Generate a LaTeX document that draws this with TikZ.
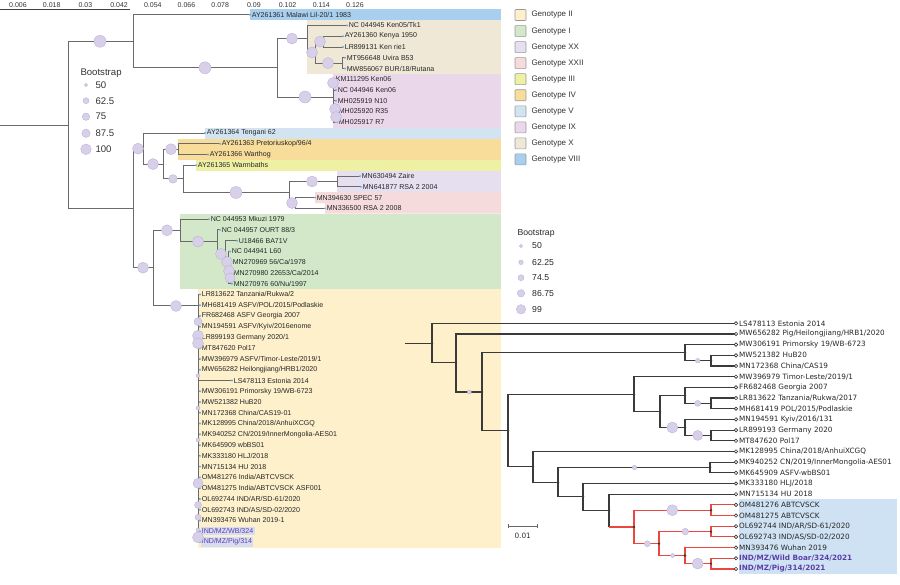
\documentclass[tikz,border=0pt]{standalone}
\usepackage{fontspec}
\usetikzlibrary{calc}
\setmainfont{Liberation Sans}
\newfontfamily\djv{DejaVu Sans}
\definecolor{gII}{HTML}{FDF0CB}
\definecolor{gI}{HTML}{D3E8C8}
\definecolor{gXX}{HTML}{E5DFF0}
\definecolor{gXXII}{HTML}{F5DBDB}
\definecolor{gIII}{HTML}{EEF0A4}
\definecolor{gIV}{HTML}{F8DC9A}
\definecolor{gV}{HTML}{D2E4F2}
\definecolor{gIX}{HTML}{EBD7EA}
\definecolor{gX}{HTML}{EFE8D6}
\definecolor{gVIII}{HTML}{A9CFEF}
\definecolor{brgray}{HTML}{6A6A6A}
\definecolor{brdark}{HTML}{3A3A3A}
\definecolor{brred}{HTML}{E9473F}
\definecolor{bootfill}{HTML}{D7D0E8}
\definecolor{bootline}{HTML}{B8AED6}
\definecolor{tipblue}{HTML}{6FA8DC}
\definecolor{indpurple}{HTML}{5B3FA8}
\definecolor{indhl}{HTML}{D6DCF3}
\definecolor{outblue}{HTML}{CFE2F3}

\tikzset{every picture/.style={line width=0.75pt}}
\tikzset{
	brL/.style={draw=brgray, line width=0.7pt},
	brR/.style={draw=brdark, line width=0.85pt},
	brRed/.style={draw=brred, line width=0.85pt},
	boot/.style={fill=bootfill, draw=bootline, line width=0.25pt},
	tipL/.style={anchor=west, inner sep=1pt, text=black!85, font=\fontsize{5.3}{6}\selectfont},
	tipR/.style={anchor=west, inner sep=2pt, text=black!85, font=\djv\fontsize{5.45}{6}\selectfont},
	indL/.style={tipL, fill=indhl, text=indpurple},
	indR/.style={tipR, text=indpurple, font=\djv\bfseries\fontsize{5.45}{6}\selectfont},
	axlab/.style={inner sep=0pt, text=black!80, font=\fontsize{5.25}{6}\selectfont},
	legsq/.style={draw=black!40, line width=0.4pt, rounded corners=0.6pt},
	leglab/.style={anchor=west, inner sep=0pt, text=black!80, font=\fontsize{6}{7}\selectfont},
	bslab/.style={anchor=west, inner sep=0pt, text=black!80, font=\fontsize{7.2}{8}\selectfont},
	bslabR/.style={anchor=west, inner sep=0pt, text=black!85, font=\fontsize{6.5}{7}\selectfont},
}

\begin{document}
\begin{tikzpicture}[x=0.75pt,y=0.75pt,yscale=-1,xscale=1]
	\useasboundingbox (0,0) rectangle (900,585);
	
	%Genotype bands
	\fill[gVIII] (250,9.3) rectangle (501,20.1);
	\fill[gX] (307,20.1) rectangle (501,73.9);
	\fill[gIX] (333,73.9) rectangle (501,127.7);
	\fill[gV] (205,127.7) rectangle (501,138.5);
	\fill[gIV] (178,138.5) rectangle (501,159.9);
	\fill[gIII] (196,159.9) rectangle (501,170.7);
	\fill[gXX] (337,170.7) rectangle (501,192.2);
	\fill[gXXII] (315,192.2) rectangle (501,203) (325,203) rectangle (501,213.7);
	\fill[gI] (180,213.7) rectangle (501,289);
	\fill[gII] (198,289) rectangle (501,547.6);
	
	%Axis
	\draw[draw=black!75, line width=0.8pt] (0,9.5) -- (130,9.5);
	\foreach \v [count=\k from 0] in {0.006,0.018,0.03,0.042,0.054,0.066,0.078,0.09,0.102,0.114,0.126}
		\node[axlab] (ax\k) at (18+33.7*\k,5) {\v};
	
	%Genotype legend
	\foreach \g/\c [count=\k from 0] in {Genotype II/gII,Genotype I/gI,Genotype XX/gXX,Genotype XXII/gXXII,Genotype III/gIII,Genotype IV/gIV,Genotype V/gV,Genotype IX/gIX,Genotype X/gX,Genotype VIII/gVIII}{
		\draw[legsq, fill=\c] (515,9.5+16.05*\k) rectangle (526,20.5+16.05*\k);
		\node[leglab] (lg\k) at (531,15+16.05*\k) {\g};
	}
	
	%Tips left
	\node[tipL] (t0) at (250,14.7) {AY261361 Malawi Lil-20/1 1983};
	\node[tipL] (t1) at (347,25.46) {NC 044945 Ken05/Tk1};
	\node[tipL] (t2) at (343,36.22) {AY261360 Kenya 1950};
	\node[tipL] (t3) at (343,46.98) {LR899131 Ken rie1};
	\node[tipL] (t4) at (345,57.74) {MT956648 Uvira B53};
	\node[tipL] (t5) at (345,68.5) {MW856067 BUR/18/Rutana};
	\node[tipL] (t6) at (334,79.26) {KM111295 Ken06};
	\node[tipL] (t7) at (336,90.02) {NC 044946 Ken06};
	\node[tipL] (t8) at (336,100.78) {MH025919 N10};
	\node[tipL] (t9) at (337,111.54) {MH025920 R35};
	\node[tipL] (t10) at (337,122.3) {MH025917 R7};
	\node[tipL] (t11) at (205,133.06) {AY261364 Tengani 62};
	\node[tipL] (t12) at (220,143.82) {AY261363 Pretoriuskop/96/4};
	\node[tipL] (t13) at (208,154.58) {AY261366 Warthog};
	\node[tipL] (t14) at (196,165.34) {AY261365 Warmbaths};
	\node[tipL] (t15) at (360,176.1) {MN630494 Zaire};
	\node[tipL] (t16) at (361,186.86) {MN641877 RSA 2 2004};
	\node[tipL] (t17) at (315,197.62) {MN394630 SPEC 57};
	\node[tipL] (t18) at (325,208.38) {MN336500 RSA 2 2008};
	\node[tipL] (t19) at (209,219.14) {NC 044953 Mkuzi 1979};
	\node[tipL] (t20) at (220,229.9) {NC 044957 OURT 88/3};
	\node[tipL] (t21) at (237,240.66) {U18466 BA71V};
	\node[tipL] (t22) at (230,251.42) {NC 044941 L60};
	\node[tipL] (t23) at (231,262.18) {MN270969 56/Ca/1978};
	\node[tipL] (t24) at (232,272.94) {MN270980 22653/Ca/2014};
	\node[tipL] (t25) at (232,283.7) {MN270976 60/Nu/1997};
	\node[tipL] (t26) at (200,294.46) {LR813622 Tanzania/Rukwa/2};
	\node[tipL] (t27) at (200,305.22) {MH681419 ASFV/POL/2015/Podlaskie};
	\node[tipL] (t28) at (200,315.98) {FR682468 ASFV Georgia 2007};
	\node[tipL] (t29) at (200,326.74) {MN194591 ASFV/Kyiv/2016enome};
	\node[tipL] (t30) at (200,337.5) {LR899193 Germany 2020/1};
	\node[tipL] (t31) at (200,348.26) {MT847620 Pol17};
	\node[tipL] (t32) at (200,359.02) {MW396979 ASFV/Timor-Leste/2019/1};
	\node[tipL] (t33) at (200,369.78) {MW656282 Heilongjiang/HRB1/2020};
	\node[tipL] (t34) at (232,380.54) {LS478113 Estonia 2014};
	\node[tipL] (t35) at (200,391.3) {MW306191 Primorsky 19/WB-6723};
	\node[tipL] (t36) at (200,402.06) {MW521382 HuB20};
	\node[tipL] (t37) at (200,412.82) {MN172368 China/CAS19-01};
	\node[tipL] (t38) at (200,423.58) {MK128995 China/2018/AnhuiXCGQ};
	\node[tipL] (t39) at (200,434.34) {MK940252 CN/2019/InnerMongolia-AES01};
	\node[tipL] (t40) at (200,445.1) {MK645909 wbBS01};
	\node[tipL] (t41) at (200,455.86) {MK333180 HLJ/2018};
	\node[tipL] (t42) at (200,466.62) {MN715134 HU 2018};
	\node[tipL] (t43) at (200,477.38) {OM481276 India/ABTCVSCK};
	\node[tipL] (t44) at (200,488.14) {OM481275 India/ABTCVSCK ASF001};
	\node[tipL] (t45) at (200,498.9) {OL692744 IND/AR/SD-61/2020};
	\node[tipL] (t46) at (200,509.66) {OL692743 IND/AS/SD-02/2020};
	\node[tipL] (t47) at (200,520.42) {MN393476 Wuhan 2019-1};
	\node[indL] (t48) at (200,531.18) {IND/MZ/WB/324};
	\node[indL] (t49) at (200,541.94) {IND/MZ/Pig/314};
	
	%Internal nodes left
	\coordinate (rootL) at (0,125);
	\coordinate (R) at (68,125);
	\coordinate (N1) at (133,41.3);
	\coordinate (N2) at (277,67.8);
	\coordinate (N3) at (307,38.6);
	\coordinate (N4) at (315,52.4);
	\coordinate (N5) at (323,41.6);
	\coordinate (N6) at (342,63.1);
	\coordinate (N7) at (333,97);
	\coordinate (S) at (133,208.5);
	\coordinate (T) at (143,148.7);
	\coordinate (U) at (163,164.1);
	\coordinate (V) at (178,149.2);
	\coordinate (W) at (183,178.9);
	\coordinate (X) at (289,192.5);
	\coordinate (Y) at (337,181.5);
	\coordinate (Z) at (295,203);
	\coordinate (G) at (153,267.7);
	\coordinate (GI) at (180,230.3);
	\coordinate (GJ) at (217,241.6);
	\coordinate (GK) at (225,253.9);
	\coordinate (GL) at (228,267.5);
	\coordinate (H) at (198,305.2);
	
	%Branches left
	\draw[brL] (rootL) -- (R) (R) |- (N1) (R) |- (S);
	\draw[brL] (N1) |- (t0.west) (N1) |- (N2);
	\draw[brL] (N2) |- (N3) (N2) |- (N7);
	\draw[brL] (N3) |- (t1.west) (N3) |- (N4);
	\draw[brL] (N4) |- (N5) (N4) |- (N6);
	\draw[brL] (N5) |- (t2.west) (N5) |- (t3.west);
	\draw[brL] (N6) |- (t4.west) (N6) |- (t5.west);
	\foreach \c in {t6,t7,t8,t9,t10} \draw[brL] (N7) |- (\c.west);
	\draw[brL] (S) |- (T) (S) |- (G);
	\draw[brL] (T) |- (t11.west) (T) |- (U);
	\draw[brL] (U) |- (V) (U) |- (W);
	\draw[brL] (V) |- (t12.west) (V) |- (t13.west);
	\draw[brL] (W) |- (t14.west) (W) |- (X);
	\draw[brL] (X) |- (Y) (X) |- (Z);
	\draw[brL] (Y) |- (t15.west) (Y) |- (t16.west);
	\draw[brL] (Z) |- (t17.west) (Z) |- (t18.west);
	\draw[brL] (G) |- (GI) (G) |- (H);
	\draw[brL] (GI) |- (t19.west) (GI) |- (GJ);
	\draw[brL] (GJ) |- (t20.west) (GJ) |- (GK);
	\draw[brL] (GK) |- (t21.west) (GK) |- (GL);
	\foreach \c in {t22,t23,t24,t25} \draw[brL] (GL) |- (\c.west);
	\foreach \c in {26,...,49} \draw[brL] (H) |- (t\c.west);
	
	%Tip dots left
	\foreach \c in {0,...,49} \fill[tipblue] (t\c.west) circle (1.1);
	
	%Bootstrap circles left
	\foreach \cx/\cy/\cr in {100/41.3/6, 205/67.8/6, 292/38.6/5.5, 305/97/6, 312/52.4/5.5, 320/41.6/5.5, 328/63.1/5.5, 333/83/5.5, 335/109/5.5, 336/117/5.5,
		138/148.7/5.5, 153/164.1/5.5, 171/149.2/5.5, 173/178.9/4.3, 236/192.5/6, 312/181.5/5.5, 292/203/5.5,
		143/267.7/5.5, 167/230.3/5.5, 176/306/5.5, 198/241.6/5.5, 221/253.9/5.5, 227/262/5.5, 229/271/5.5, 230/278/5,
		198/321.7/4, 198/335.7/5.5, 198/343.3/5.5, 198/375.7/2, 198/408/2, 198/440/2, 198/483.3/5, 198/505/3.5, 198/517.3/3, 198/530/2, 198/537.3/5.5}
		\path[boot] (\cx,\cy) circle (\cr);
	
	%Bootstrap legend left
	\node[bslab] (bsL) at (80,72.7) {Bootstrap};
	\foreach \cy/\cr/\v [count=\k] in {85/1.7/50, 100.7/3/62.5, 116.7/3.7/75, 133.3/4.2/87.5, 149.3/5.3/100}{
		\path[boot] (86,\cy) circle (\cr);
		\node[bslab] (bsL\k) at (95,\cy) {\v};
	}
	
	%Right tree: outbreak band
	\fill[outblue] (739.3,499.3) rectangle (896.7,574.3);
	
	%Tips right
	\node[tipR] (r0) at (736,323.3) {LS478113 Estonia 2014};
	\node[tipR] (r1) at (736,333.98) {MW656282 Pig/Heilongjiang/HRB1/2020};
	\node[tipR] (r2) at (736,344.66) {MW306191 Primorsky 19/WB-6723};
	\node[tipR] (r3) at (736,355.34) {MW521382 HuB20};
	\node[tipR] (r4) at (736,366.02) {MN172368 China/CAS19};
	\node[tipR] (r5) at (736,376.7) {MW396979 Timor-Leste/2019/1};
	\node[tipR] (r6) at (736,387.38) {FR682468 Georgia 2007};
	\node[tipR] (r7) at (736,398.06) {LR813622 Tanzania/Rukwa/2017};
	\node[tipR] (r8) at (736,408.74) {MH681419 POL/2015/Podlaskie};
	\node[tipR] (r9) at (736,419.42) {MN194591 Kyiv/2016/131};
	\node[tipR] (r10) at (736,430.1) {LR899193 Germany 2020};
	\node[tipR] (r11) at (736,440.78) {MT847620 Pol17};
	\node[tipR] (r12) at (736,451.46) {MK128995 China/2018/AnhuiXCGQ};
	\node[tipR] (r13) at (736,462.14) {MK940252 CN/2019/InnerMongolia-AES01};
	\node[tipR] (r14) at (736,472.82) {MK645909 ASFV-wbBS01};
	\node[tipR] (r15) at (736,483.5) {MK333180 HLJ/2018};
	\node[tipR] (r16) at (736,494.18) {MN715134 HU 2018};
	\node[tipR] (r17) at (736,504.86) {OM481276 ABTCVSCK};
	\node[tipR] (r18) at (736,515.54) {OM481275 ABTCVSCK};
	\node[tipR] (r19) at (736,526.22) {OL692744 IND/AR/SD-61/2020};
	\node[tipR] (r20) at (736,536.9) {OL692743 IND/AS/SD-02/2020};
	\node[tipR] (r21) at (736,547.58) {MN393476 Wuhan 2019};
	\node[indR] (r22) at (736,558.26) {IND/MZ/Wild Boar/324/2021};
	\node[indR] (r23) at (736,568.94) {IND/MZ/Pig/314/2021};
	
	%Internal nodes right
	\coordinate (rootR) at (405,343.3);
	\coordinate (RR) at (432,343.3);
	\coordinate (RB) at (456,362.9);
	\coordinate (RC) at (482,392);
	\coordinate (RD) at (685,352.7);
	\coordinate (RE) at (711,360.7);
	\coordinate (RF) at (508,430.5);
	\coordinate (RG) at (634,394.3);
	\coordinate (RH) at (660,411.7);
	\coordinate (RI) at (685,395.7);
	\coordinate (RJ) at (711,403.4);
	\coordinate (RK) at (685,427.5);
	\coordinate (RL) at (711,435.4);
	\coordinate (RM) at (533,466.4);
	\coordinate (RN) at (558,482.5);
	\coordinate (RO) at (710,467.5);
	\coordinate (RP) at (583,496.7);
	\coordinate (RQ) at (609,510.3);
	\coordinate (RS) at (634,527);
	\coordinate (RT) at (711,510.2);
	\coordinate (RU) at (659,543.7);
	\coordinate (RV) at (711,531.6);
	\coordinate (RW) at (685,555.5);
	\coordinate (RX) at (711,563.6);
	
	%Branches right
	\draw[brR] (rootR) -- (RR) (RR) |- (r0.west) (RR) |- (RB);
	\draw[brR] (RB) |- (r1.west) (RB) |- (RC);
	\draw[brR] (RC) |- (RD) (RC) |- (RF);
	\draw[brR] (RD) |- (r2.west) (RD) |- (RE);
	\draw[brR] (RE) |- (r3.west) (RE) |- (r4.west);
	\draw[brR] (RF) |- (RG) (RF) |- (RM);
	\draw[brR] (RG) |- (r5.west) (RG) |- (RH);
	\draw[brR] (RH) |- (RI) (RH) |- (RK);
	\draw[brR] (RI) |- (r6.west) (RI) |- (RJ);
	\draw[brR] (RJ) |- (r7.west) (RJ) |- (r8.west);
	\draw[brR] (RK) |- (r9.west) (RK) |- (RL);
	\draw[brR] (RL) |- (r10.west) (RL) |- (r11.west);
	\draw[brR] (RM) |- (r12.west) (RM) |- (RN);
	\draw[brR] (RN) |- (RO) (RN) |- (RP);
	\draw[brR] (RO) |- (r13.west) (RO) |- (r14.west);
	\draw[brR] (RP) |- (r15.west) (RP) |- (RQ);
	\draw[brR] (RQ) |- (r16.west) (RQ) -- (RQ |- RS);
	\draw[brRed] (RQ |- RS) -- (RS);
	\draw[brRed] (RS) |- (RT) (RS) |- (RU);
	\draw[brRed] (RT) |- (r17.west) (RT) |- (r18.west);
	\draw[brRed] (RU) |- (RV) (RU) |- (RW);
	\draw[brRed] (RV) |- (r19.west) (RV) |- (r20.west);
	\draw[brRed] (RW) |- (r21.west) (RW) |- (RX);
	\draw[brRed] (RX) |- (r22.west) (RX) |- (r23.west);
	
	%Bootstrap circles right
	\foreach \cx/\cy/\cr in {469.3/392/2, 697.7/360.7/2.3, 697.7/403.4/3, 672.3/427.5/5.5, 697.7/435.4/5, 634.5/467.5/2.3,
		672.3/510.2/5.5, 647.3/543.7/3, 685.3/531.6/3.3, 672.7/555.5/2, 697.7/563.6/5.5}
		\path[boot] (\cx,\cy) circle (\cr);
	
	%Node dots and tip markers right
	\foreach \n in {RR,RB,RC,RD,RE,RF,RG,RH,RI,RJ,RK,RL,RM,RN,RO,RP,RQ,RS,RT,RU,RV,RW,RX}
		\fill[brdark] (\n) circle (1.3);
	\foreach \c in {0,...,23} \draw[brdark, line width=0.5pt, fill=white] (r\c.west) circle (1.7);
	
	%Bootstrap legend right
	\node[bslabR] (bsR) at (517,233) {Bootstrap};
	\foreach \cy/\cr/\v [count=\k] in {246/1.6/50, 262.3/2.3/62.25, 277.7/3/74.5, 293.3/3.7/86.75, 309.3/4.7/99}{
		\path[boot] (521,\cy) circle (\cr);
		\node[bslabR] (bsR\k) at (531.7,\cy) {\v};
	}
	
	%Scale bar
	\coordinate (sb1) at (508.3,526);
	\coordinate (sb2) at (537.7,526);
	\draw[draw=black!60, line width=0.5pt] (sb1) -- (sb2) ($(sb1)+(0,-2)$) -- ($(sb1)+(0,2)$) ($(sb2)+(0,-2)$) -- ($(sb2)+(0,2)$);
	\node[inner sep=0pt, text=black!80, font=\djv\fontsize{5.5}{6}\selectfont] (sblab) at (522.7,535.5) {0.01};
	
\end{tikzpicture}
\end{document}
